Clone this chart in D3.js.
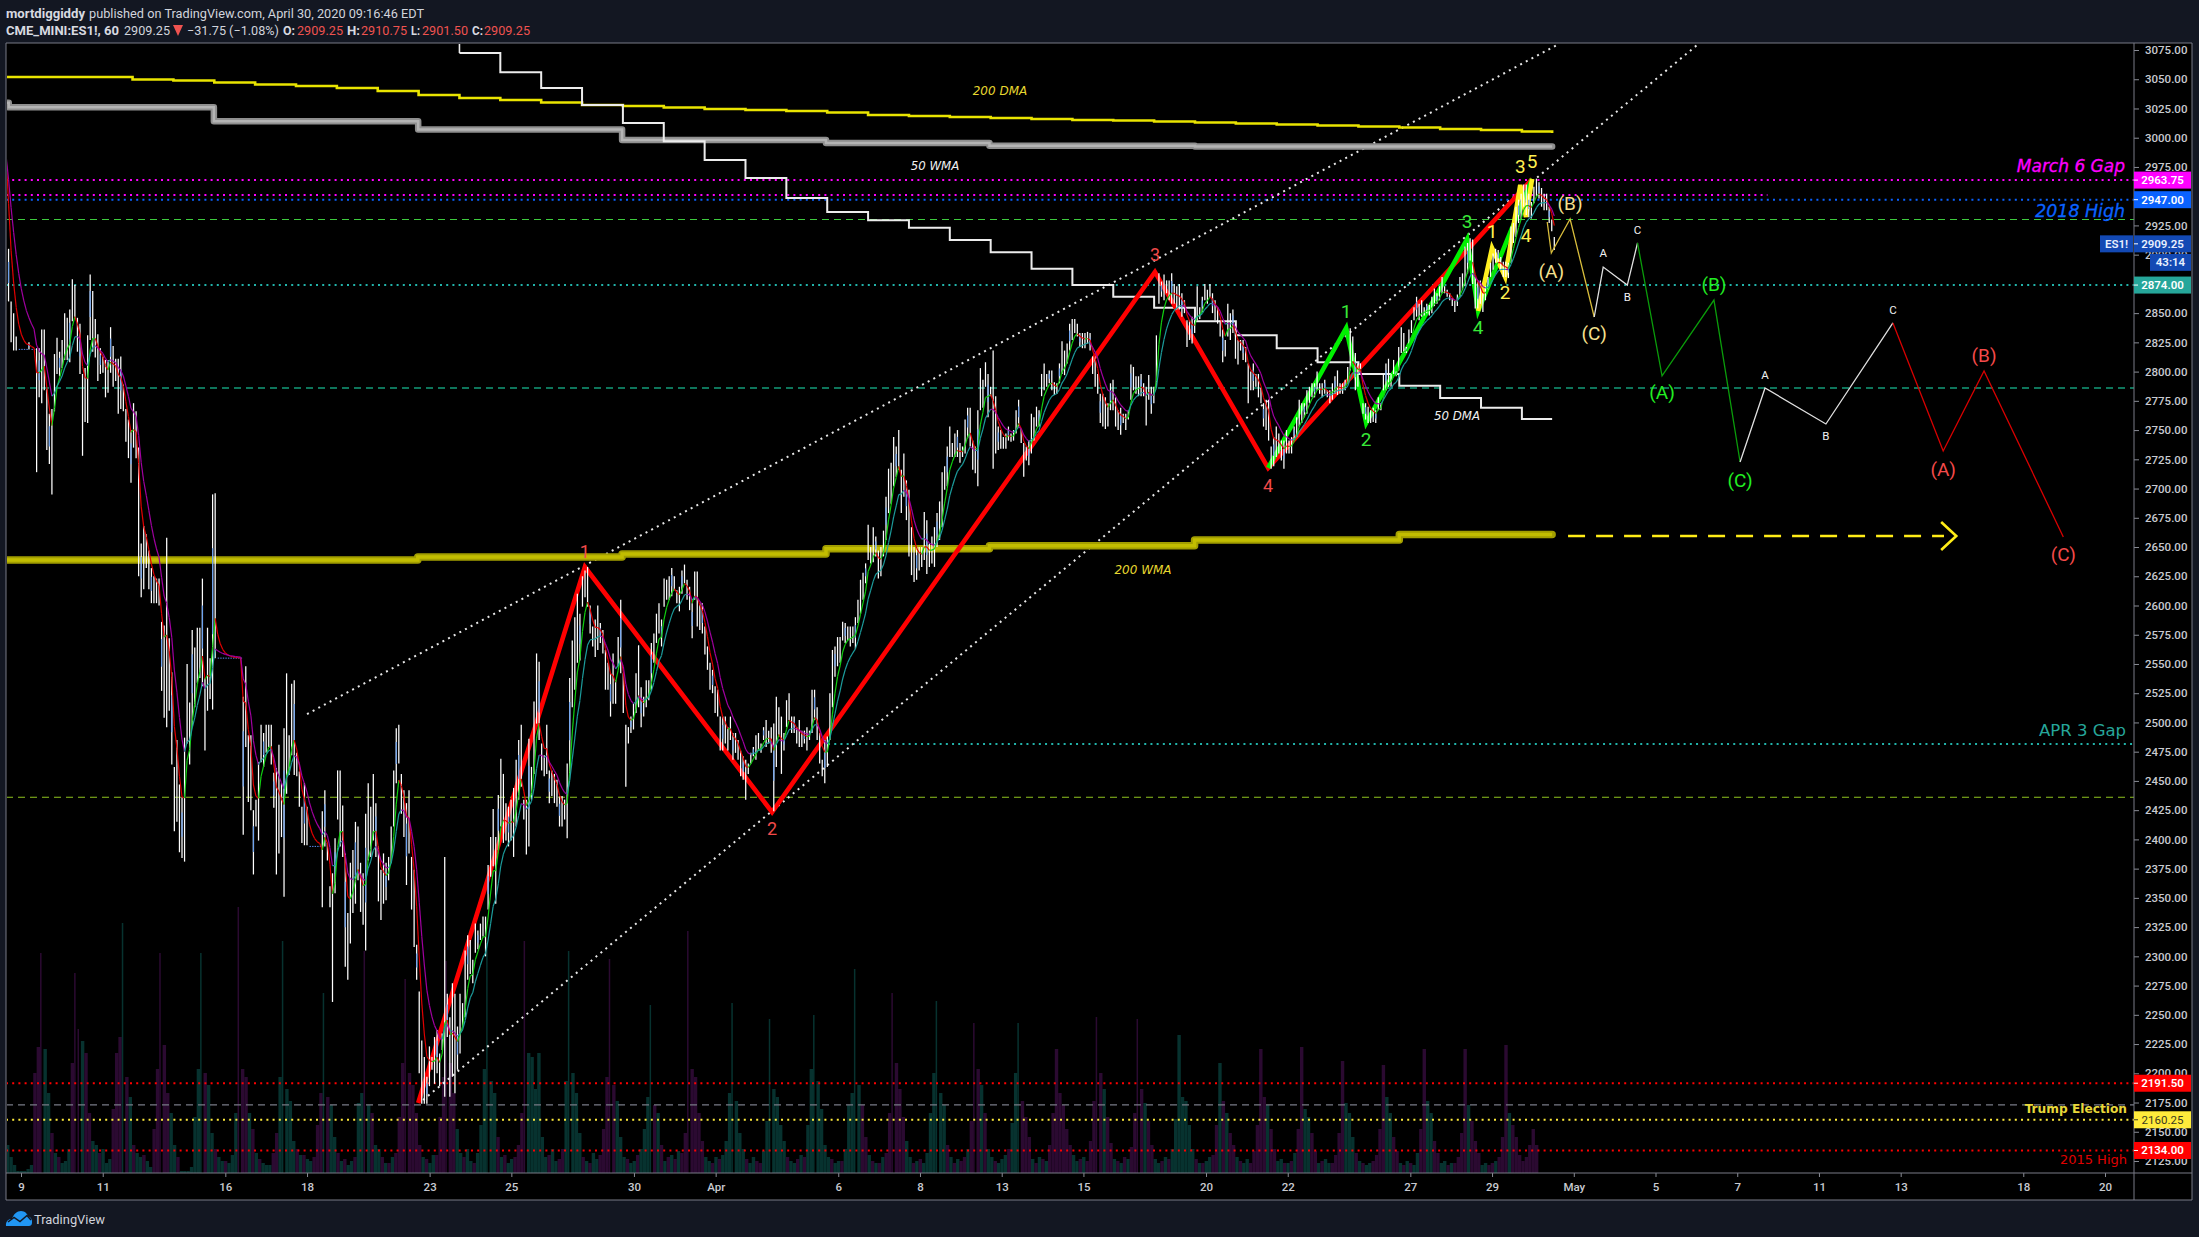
<!DOCTYPE html>
<html><head><meta charset="utf-8">
<style>html,body{margin:0;padding:0;background:#131722}svg{display:block}</style>
<script src="https://cdn.jsdelivr.net/npm/d3@7"></script></head><body>
<svg id="c" width="2199" height="1237"></svg>
<script>
// ---------- price bars: flat [high,low,high,low,...], 16 bars per session
const bars1=[2985,2900,2905,2860,2860,2825,2850,2818,2830,2818,2819,2819,2819,2819,2819,2819,2819,2819,2825,2819,2819,2819,2819,2819,2820,2714,2820,2778,2836,2773,2836,2784,2785,2733,2764,2721,2768,2695,2815,2766,2829,2798,2817,2796,2827,2803,2850,2810,2846,2810,2853,2808,2879,2843,2874,2845,2846,2817,2841,2798,2798,2728,2803,2757,2831,2756,2883,2827,2869,2817,2845,2812,2832,2792,2820,2798,2813,2799,2810,2778,2810,2782,2838,2799,2822,2787,2811,2792,2811,2764,2813,2768,2789,2766,2768,2740,2759,2726,2750,2705,2773,2735,2766,2726,2735,2625,2653,2607,2668,2614,2661,2632,2647,2614,2632,2602,2625,2602,2623,2602,2623,2600,2586,2527,2583,2504,2658,2496,2572,2510,2543,2464,2462,2407,2485,2415,2447,2389,2436,2384,2487,2381,2550,2482,2517,2464,2579,2496,2564,2513,2581,2534,2581,2538,2623,2531,2538,2476,2581,2510,2555,2520,2695,2511,2696,2555];
const bars2=[2555,2555,2555,2555,2555,2555,2555,2555,2555,2555,2555,2555,2555,2555,2555,2555,2555,2555,2555,2555,2522,2404,2548,2479,2489,2432,2489,2425,2425,2370,2434,2411,2466,2399,2498,2466,2491,2462,2498,2474,2498,2479,2498,2464,2457,2427,2461,2370,2481,2388,2448,2402,2495,2351,2542,2439,2489,2455,2533,2472,2536,2455,2474,2454,2458,2428,2428,2397,2448,2395,2428,2395,2394,2394,2394,2394,2394,2394,2394,2394,2394,2394,2424,2342,2442,2394,2397,2382,2360,2342,2371,2261,2401,2354,2459,2417,2459,2394,2429,2385,2388,2291,2337,2280,2380,2311,2391,2337,2415,2345,2411,2365,2380,2338,2371,2327,2422,2305,2448,2382,2428,2385,2456,2399,2431,2385,2394,2347,2374,2331,2388,2345,2380,2348,2385,2365,2411,2380,2459,2411,2495,2448,2498,2465,2456,2422,2442,2402,2431,2361,2442,2388,2385,2340,2374,2308,2310,2280,2270,2200,2228,2174,2214,2174,2197,2174,2223,2189,2214,2203,2231,2191,2237,2200,2217,2189,2234,2220,2385,2180,2268,2231,2248,2180,2277,2197,2268,2183,2240,2203,2268,2217,2260,2240,2305,2248,2318,2280,2314,2285,2297,2277,2328,2303,2322,2306,2328,2314,2334,2317,2334,2300];
const bars3=[2378,2340,2402,2368,2426,2377,2402,2345,2438,2391,2469,2411,2456,2397,2431,2399,2428,2394,2434,2399,2444,2385,2468,2411,2485,2434,2498,2445,2434,2417,2434,2387,2486,2394,2462,2434,2518,2456,2559,2499,2552,2485,2482,2459,2472,2454,2498,2456,2459,2431,2459,2437,2456,2431,2451,2428,2437,2411,2437,2411,2434,2417,2465,2401,2538,2456,2570,2513,2590,2528,2610,2551,2593,2553,2625,2599,2630,2607,2633,2599,2600,2576,2582,2565,2588,2556,2600,2562,2585,2568,2579,2559,2562,2528,2551,2528,2542,2505,2559,2516,2536,2516,2573,2548,2605,2542,2542,2508,2498,2445,2496,2482,2505,2491,2516,2494,2542,2508,2566,2513,2530,2496,2522,2505,2536,2513,2536,2519,2568,2528,2576,2551,2593,2568,2602,2576,2588,2565,2623,2599,2622,2605,2625,2605,2632,2608,2625,2613,2613,2602,2616,2595,2630,2610,2635,2619,2622,2605,2616,2596,2602,2572,2629,2605,2629,2582,2602,2579,2602,2576,2582,2558,2565,2545,2551,2528,2545,2525,2531,2508,2528,2505,2505,2476,2505,2476,2505,2482,2496,2476,2505,2485,2491,2468,2491,2474,2485,2468,2476,2454,2471,2451,2468,2434,2465,2456,2474,2465,2479,2471,2489,2468,2491,2476,2482,2474,2496,2485,2502,2479,2493,2482,2496,2474,2499,2424,2522,2462,2513,2488,2505,2456,2491,2476,2519,2496,2525,2502,2505,2491,2505,2491,2496,2482,2502,2479,2493,2479,2493,2482,2496,2476,2493,2485,2528,2491,2528,2502,2513,2485,2491,2465,2468,2454,2485,2448,2488,2462,2525,2485,2562,2513,2565,2539,2573,2548,2573,2551,2586,2570,2585,2568,2582,2570,2582,2565,2582,2568,2590,2563,2605,2585,2622,2593,2628,2605,2636,2619];
const bars4=[2669,2639,2650,2636,2667,2637,2659,2642,2647,2623,2650,2625,2664,2642,2693,2656,2717,2679,2722,2687,2744,2702,2736,2710,2750,2716,2716,2679,2730,2693,2707,2673,2699,2642,2667,2626,2650,2620,2650,2622,2650,2630,2650,2633,2680,2639,2673,2627,2653,2633,2659,2636,2667,2633,2679,2650,2689,2656,2714,2667,2719,2699,2736,2702,2753,2727,2739,2727,2747,2727,2750,2727,2739,2722,2736,2727,2759,2730,2769,2743,2769,2736,2741,2716,2736,2713,2767,2702,2803,2767,2793,2769,2808,2787,2798,2761,2787,2779,2818,2717,2779,2730,2753,2733,2750,2734,2744,2734,2747,2734,2753,2741,2747,2740,2750,2741,2767,2747,2776,2753,2751,2739,2739,2710,2736,2724,2741,2720,2764,2730,2761,2741,2770,2753,2767,2753,2798,2779,2807,2784,2798,2787,2801,2790,2801,2784,2791,2780,2790,2781,2807,2790,2826,2798,2818,2797,2824,2807,2841,2818,2845,2827,2845,2833,2841,2830,2833,2821,2833,2820,2833,2820,2834,2824,2833,2818,2813,2798,2813,2787,2798,2781,2781,2756,2781,2753,2778,2751,2773,2753,2790,2767,2793,2767,2778,2753,2767,2750,2769,2746,2764,2756,2764,2750,2767,2759,2806,2776,2804,2784,2796,2781,2796,2779,2798,2779,2790,2779,2787,2754,2797,2776,2787,2764,2787,2773,2831,2787];
const bars5=[2884,2858,2877,2864,2883,2861,2878,2867,2878,2861,2884,2858,2875,2858,2873,2853,2875,2853,2867,2847,2861,2850,2844,2821,2844,2827,2847,2824,2844,2833,2873,2844,2855,2845,2864,2851,2875,2861,2870,2858,2875,2863,2867,2850,2861,2844,2855,2841,2844,2830,2836,2808,2827,2813,2858,2830,2850,2827,2853,2833,2841,2811,2827,2806,2827,2818,2827,2810,2821,2808,2807,2773,2800,2784,2807,2784,2798,2787,2798,2778,2786,2773,2773,2753,2776,2750,2776,2741,2736,2717,2744,2719,2753,2727,2747,2730,2741,2724,2741,2717,2750,2730,2741,2730,2744,2730,2753,2741,2761,2744,2776,2753,2773,2756,2773,2761,2784,2764,2787,2773,2790,2778,2790,2778,2800,2784,2790,2781,2790,2778,2793,2781,2784,2778,2784,2773,2790,2776,2796,2781,2801,2780,2790,2781,2790,2781,2793,2784,2804,2790,2837,2801,2830,2807,2816,2784,2807,2787,2807,2798,2773,2764,2773,2759,2770,2756,2767,2756,2769,2757,2767,2756,2778,2767,2773,2767,2798,2784,2807,2784,2811,2787,2798,2787,2810,2798,2800,2796,2821,2801,2838,2816,2833,2816,2821,2816,2836,2824,2844,2833,2855,2844,2864,2847,2858,2844,2861,2847,2855,2848,2858,2850,2857,2848,2864,2850];
const bars6=[2871,2856,2867,2858,2873,2861,2881,2867,2873,2867,2870,2864,2867,2861,2863,2856,2861,2851,2866,2856,2881,2864,2884,2870,2907,2873,2910,2884,2914,2895,2913,2875,2881,2854,2878,2854,2878,2858,2867,2851,2873,2861,2881,2870,2893,2881,2901,2887,2905,2893,2904,2893,2898,2887,2894,2881,2894,2881,2893,2880,2924,2893,2927,2910,2941,2915,2947,2927,2952,2930,2960,2941,2960,2934,2952,2932,2945,2931,2958,2944,2965,2950,2962,2948,2957,2941,2952,2938,2952,2938,2941,2927,2930,2920,2915,2904];
const barsPerSession=16.02, firstBarDay=-0.367;

// ---------- volume: 12 readings per session, positive = up bar, negative = down bar
const volumeRows=[
[14,8,4,1,1,1,2,4,-50,-63,-110,62],[40,-20,10,-8,5,6,12,-55,-100,-72,66,-60],[-30,16,14,-10,12,5,7,-32,-60,-68,125,-48],[38,-14,10,8,-9,6,3,-22,-52,-110,-64,-40],[30,14,-8,1,1,1,3,28,52,110,-50,44],
[20,-12,8,6,-6,5,9,30,-133,-52,-48,30],[-22,10,-7,5,4,4,-10,-20,48,116,42,36],[16,-12,9,-9,7,6,-8,-24,-40,90,-38,34],[18,-10,6,-7,4,6,-8,35,40,-111,34,-30],[14,12,-8,5,-5,8,-10,-28,-55,-97,-50,-44],
[-30,-14,8,-7,5,9,-9,-28,-48,-106,-55,-40],[22,10,-8,12,6,-5,10,24,52,115,46,40],[-18,8,-9,5,7,-8,-14,-30,-116,60,58,42],[60,18,8,-9,12,6,-7,-12,46,111,50,40],[20,-8,6,-5,10,7,-9,-22,-48,-107,-44,36],
[18,8,-7,5,6,-9,12,22,38,84,-34,30],[-14,6,-8,9,-7,11,-10,-20,-121,-52,-48,-30],[-16,8,6,-5,8,-7,9,16,40,85,36,20],[12,-7,5,8,-6,-5,11,26,77,42,38,24],[16,-8,6,5,-7,9,-8,24,52,79,46,32],
[14,8,-7,5,6,-6,12,34,40,102,44,-34],[-18,9,-6,5,-5,8,-10,-30,-90,-55,-42,-28],[16,8,-5,6,-7,5,10,30,50,86,40,34],[-14,8,-5,7,-6,-8,12,-26,-75,-52,44,-30],[12,8,-6,5,7,9,-12,25,50,75,-36,-28],
[-18,7,-5,8,-7,6,-14,-30,-62,-40,-34,-22],[-14,9,6,-7,8,-6,-16,-36,-78,-50,42,-28],[-15,7,-6,5,-8,7,-13,-30,-77,-42,35,-26],[-14,7,5,-6,8,-7,12,27,69,38,36,24],[12,-7,5,-5,6,8,-9,-24,55,-36,30,-20],
[-14,8,-6,5,7,-5,-11,-24,-62,-38,34,-22],[-12,6,7,-5,5,-6,10,-22,-63,32,28,-20],[-11,5,-6,7,5,-5,-9,-20,-56,35,30,18],[-10,6,-5,4,5,-6,-9,-22,-54,38,30,-18],[-11,5,-4,6,-5,4,10,-22,-62,36,30,-16],
[-10,5,6,-4,5,-5,-8,-20,-62,34,-26,-16],[-10,4,5,-4,-5,6,-8,-18,-64,30,-24,-18],[-9,-6,-8,-14,-22,-14]];

// ---------- daily and weekly averages (session steps)
const dma200=[3051.9,3049.8,3048.9,3047.2,3045.5,3044.2,3042.5,3039.9,3036.5,3034,3032.2,3030.1,3028,3027.1,3025.8,3024.6,3023.7,3022.8,3021.6,3019.4,3018.6,3017.7,3016.9,3016,3015.1,3014.7,3013.9,3013,3012.2,3011.3,3010.4,3009.6,3008.7,3007.4,3006.6,3005.3,3004];
const dma200Days=[-0.37].concat(d3.range(2.73,37,1));
const dma50=[3072.4,3056,3042.5,3028,3012.5,2997,2981,2965.5,2948.5,2936.5,2929.5,2923,2912.5,2902,2888,2874,2864,2854.5,2843,2831,2820,2808,2798,2788,2777.5,2769,2759.5];
const dma50Days=d3.range(10.73,37,1);
const wma50=[3030,3026,3014,3007,2998,2995.5,2993.2,2992.5];
const wma50Days=[-0.37,-0.3,4.72,9.72,14.71,19.7,23.7,28.73];
const wma200=[2639,2641.5,2644,2648.5,2651,2656,2660.7];
const wma200Days=[-0.37,9.71,14.71,19.7,23.7,28.72,33.73];
const seriesEnd=37.47;

// ---------- wave counts
const redWave=[[9.72,2174.6],[13.8,2632.9],[18.38,2423.4],[27.75,2885.2],[30.52,2717.6],[36.98,2964.7]];
const redLabels=["","1","2","3","4",""];
const greenWave=[[30.52,2717.6],[32.43,2837.3],[32.92,2756],[35.39,2913.4],[35.66,2851.8],[36.98,2964.7]];
const greenLabels=["","1","2","3","4",""];
const yellowWave=[[35.66,2851.8],[36,2905.7],[36.32,2881],[36.69,2959.6],[36.83,2932.2],[36.98,2964.7]];
const yellowLabels=["","1","2","3","4","5"];
const fcYellow=[[37.35,2927.9],[37.45,2901.4],[37.91,2930.5],[38.5,2846.7]];
const fcYellowLabels=["","(A)","(B)","(C)"];
const fcWhite1=[[38.5,2846.7],[38.72,2889.4],[39.31,2874],[39.56,2910]];
const fcWhite1Labels=["","A","B","C"];
const fcGreen=[[39.56,2910],[40.16,2796.3],[41.43,2861.2],[42.07,2722.7]];
const fcGreenLabels=["","(A)","(B)","(C)"];
const fcWhite2=[[42.07,2722.7],[42.68,2786],[44.17,2755.2],[45.81,2841.6]];
const fcWhite2Labels=["","A","B","C"];
const fcRed=[[45.81,2841.6],[47.04,2732.1],[48.04,2800.5],[49.98,2658.6]];
const fcRedLabels=["","(A)","(B)","(C)"];
const trendUpper=[[7,2507.2],[37.59,3079.3]];
const trendLower=[[9.84,2177.2],[41.02,3079.3]];
const targetDash=[[37.86,2659.4],[47.06,2659.4]];
const targetHead=[[46.99,2671.4],[47.36,2659.4],[46.99,2647.5]];

// ---------- axis
const priceTicks=d3.range(2125,3076,25);
const dayTicks=[0,2,5,7,10,12,15,17,20,22,24,26,29,31,34,36,38,40,42,44,46,49,51];
const dayLabels=["9","11","16","18","23","25","30","Apr","6","8","13","15","20","22","27","29","May","5","7","11","13","18","20"];

// ---------- horizontal levels: price, colour, dash kind, optional start/end
const levelPrices=[2963.75,2951,2947,2930,2874,2786,2481.5,2436,2191.5,2173,2160.25,2134];
const levelColors=["#ff00ff","#ff00ff","#0a62ff","#3ecb3e","#22b3aa","#1de9b6","#22b3aa","#8fc31f","#ff0000","#787b86","#ffeb3b","#ff0000"];
const levelDash=["dot","dot","dot","dash","dot","dash","dot","dash","dot","dash","dot","dot"];
const levelStart=[null,null,null,null,null,null,19.75,null,null,null,null,null];
const levelEnd=[null,42.74,null,null,null,null,null,null,null,null,null,null];
const tagPrices=[2963.75,2947,2874,2191.5,2160.25,2134];
const tagFill=["#ff00ff","#0a62ff","#26a69a","#ff0000","#ffeb3b","#ff0000"];
const tagText=["#fff","#fff","#fff","#fff","#3a3a20","#fff"];

// ---------- build
const W=2199,H=1237,paneL=6,paneT=43,axisX=2134,paneB=1173,outerR=2192,outerB=1200;
const svg=d3.select("#c");
const x=d3.scaleLinear().domain([0,51]).range([21,2105]);
const y=d3.scaleLinear().domain([2125,3075]).range([1161,50]);
const vol=d3.scaleLinear().domain([0,130]).range([paneB,paneB-260]);
const FONT="Roboto,'Open Sans',sans-serif";

svg.append("rect").attr("width",W).attr("height",H).attr("fill","#131722");
svg.append("rect").attr("x",paneL).attr("y",paneT).attr("width",outerR-paneL).attr("height",outerB-paneT).attr("fill","#000");
svg.append("defs").append("clipPath").attr("id","pane").append("rect").attr("x",paneL+1).attr("y",paneT+1).attr("width",axisX-paneL-1).attr("height",paneB-paneT-1);
const g=svg.append("g").attr("clip-path","url(#pane)");

// volume
const volData=volumeRows.flatMap((r,d)=>r.map((v,k)=>({day:firstBarDay+d+k/12,v})));
g.append("g").selectAll("rect").data(volData).join("rect")
 .attr("x",d=>x(d.day)).attr("width",d=>Math.abs(d.v)>=70?1.5:3.4)
 .attr("y",d=>vol(Math.abs(d.v))).attr("height",d=>paneB-vol(Math.abs(d.v)))
 .attr("fill",d=>d.v>=0?"#07322f":"#2b0a31");

// levels
levelPrices.forEach((p,i)=>{
 g.append("line").attr("x1",levelStart[i]==null?paneL:x(levelStart[i])).attr("x2",levelEnd[i]==null?axisX:x(levelEnd[i]))
  .attr("y1",y(p)).attr("y2",y(p)).attr("stroke",levelColors[i])
  .attr("stroke-width",levelDash[i]==="dot"?2:1.1)
  .attr("stroke-dasharray",levelDash[i]==="dot"?"2 4.2":"7 5");
});

const line=d3.line().x(d=>x(d[0])).y(d=>y(d[1]));
const step=d3.line().x(d=>x(d[0])).y(d=>y(d[1])).curve(d3.curveStepAfter);
const zip=(days,vals)=>days.map((d,i)=>[d,vals[i]]).concat([[seriesEnd,vals[vals.length-1]]]);

// trend lines
[trendUpper,trendLower].forEach(t=>g.append("path").attr("d",line(t)).attr("fill","none").attr("stroke","#e8e8e8").attr("stroke-width",2).attr("stroke-dasharray","2 4.4"));

// averages
g.append("path").attr("d",step(zip(wma200Days,wma200))).attr("fill","none").attr("stroke","#a29e00").attr("stroke-width",7.5).attr("stroke-linejoin","round").attr("stroke-linecap","round");
g.append("path").attr("d",step(zip(wma200Days,wma200))).attr("fill","none").attr("stroke","#c2bd00").attr("stroke-width",3.5);
g.append("path").attr("d",step(zip(wma50Days,wma50))).attr("fill","none").attr("stroke","#8f8f8f").attr("stroke-width",6.5).attr("stroke-linejoin","round").attr("stroke-linecap","round");
g.append("path").attr("d",step(zip(wma50Days,wma50))).attr("fill","none").attr("stroke","#b4b4b4").attr("stroke-width",2.5);
g.append("path").attr("d",step(zip(dma200Days,dma200))).attr("fill","none").attr("stroke","#e9e400").attr("stroke-width",2.6);
g.append("path").attr("d",step(zip(dma50Days,dma50))).attr("fill","none").attr("stroke","#ececec").attr("stroke-width",2);
g.append("path").attr("d",line([[dma50Days[0],3090],[dma50Days[0],dma50[0]]])).attr("stroke","#ececec").attr("stroke-width",1.6);

// wave lines
[[redWave,"#ff0000"],[greenWave,"#00f000"],[yellowWave,"#ffee20"]].forEach(([w,c])=>
 g.append("path").attr("d",line(w)).attr("fill","none").attr("stroke",c).attr("stroke-width",4.6).attr("stroke-linejoin","miter"));

// bars
const flat=bars1.concat(bars2,bars3,bars4,bars5,bars6);
const bars=[];
for(let i=0;i<flat.length;i+=2){const n=i/2;bars.push({i:n,day:firstBarDay+n/barsPerSession,hi:flat[i],lo:flat[i+1]});}
const bg=g.append("g");
bg.selectAll("line.w").data(bars.filter(b=>b.hi>b.lo)).join("line")
 .attr("x1",d=>x(d.day)).attr("x2",d=>x(d.day)).attr("y1",d=>y(d.hi)).attr("y2",d=>y(d.lo))
 .attr("stroke","#ffffff").attr("stroke-width",1.25);
bg.selectAll("line.f").data(bars.filter(b=>b.hi===b.lo)).join("line")
 .attr("x1",d=>x(d.day)).attr("x2",d=>x(d.day)+1.4).attr("y1",d=>y(d.hi)).attr("y2",d=>y(d.lo))
 .attr("stroke","#5b8def").attr("stroke-width",1);
bg.selectAll("line.b").data(bars.filter(b=>b.hi>b.lo&&b.i%4===1)).join("line")
 .attr("x1",d=>x(d.day)).attr("x2",d=>x(d.day))
 .attr("y1",d=>y(d.hi-(d.hi-d.lo)*.25)).attr("y2",d=>y(d.lo+(d.hi-d.lo)*.35))
 .attr("stroke","#6fa3ee").attr("stroke-width",1.25);

// moving averages computed from the bars
function ema(alpha){let e=null;return bars.map(b=>{const m=(b.hi+b.lo)/2;e=e==null?b.hi:e+alpha*(m-e);return [b.day,e];});}
function coloured(pts,up,down,w){for(let i=1;i<pts.length;i++){
 g.append("line").attr("x1",x(pts[i-1][0])).attr("x2",x(pts[i][0])).attr("y1",y(pts[i-1][1])).attr("y2",y(pts[i][1]))
  .attr("stroke",pts[i][1]>=pts[i-1][1]?up:down).attr("stroke-width",w);}}
coloured(ema(.4),"#10d010","#e00000",1.2);
coloured(ema(.2),"#1c9c9c","#a000a0",1.2);

// forecast lines
[[fcYellow,"#d8bd3c"],[fcWhite1,"#e0e0e0"],[fcGreen,"#0a9c0a"],[fcWhite2,"#e0e0e0"],[fcRed,"#d80000"]].forEach(([w,c])=>
 g.append("path").attr("d",line(w)).attr("fill","none").attr("stroke",c).attr("stroke-width",1.3));
g.append("path").attr("d",line(targetDash)).attr("fill","none").attr("stroke","#ffec17").attr("stroke-width",2.6).attr("stroke-dasharray","17 11");
g.append("path").attr("d",line(targetHead)).attr("fill","none").attr("stroke","#ffec17").attr("stroke-width",2.6);

// labels on waves
function waveLabels(w,labels,offsets,color,size){
 labels.forEach((t,i)=>{ if(!t) return;
  svg.append("text").attr("x",x(w[i][0])).attr("y",y(w[i][1])+offsets[i]).attr("text-anchor","middle").attr("dominant-baseline","central")
   .attr("fill",color).attr("font-family",FONT).attr("font-size",size).text(t);});}
waveLabels(redWave,redLabels,[0,-16,16,-17,18,0],"#f24a4a",18);
waveLabels(greenWave,greenLabels,[0,-16,16,-17,16,0],"#38e838",19);
waveLabels(yellowWave,yellowLabels,[0,-16,16,-18,18,-17],"#fff050",19);
waveLabels(fcYellow,fcYellowLabels,[0,18,-15,17],"#f6e08e",19);
waveLabels(fcWhite1,fcWhite1Labels,[0,-14,12,-13],"#f0f0f0",11.5);
waveLabels(fcGreen,fcGreenLabels,[0,17,-16,18],"#22ee22",19);
waveLabels(fcWhite2,fcWhite2Labels,[0,-13,12,-13],"#f0f0f0",11.5);
waveLabels(fcRed,fcRedLabels,[0,18,-16,18],"#f44a4a",19);

// free text
function note(t,px,py,color,size,opt={}){
 const e=svg.append("text").attr("x",px).attr("y",py).attr("fill",color).attr("font-size",size)
  .attr("font-family",opt.font||"'DejaVu Sans',sans-serif").attr("dominant-baseline","central")
  .attr("text-anchor",opt.anchor||"middle").attr("font-style",opt.italic?"italic":"normal").attr("font-weight",opt.bold?"bold":"normal").text(t);
 if(opt.stroke) e.attr("stroke",color).attr("stroke-width",opt.stroke);
 return e;}
note("200 DMA",1000,91,"#e8d830",12,{italic:true});
note("50 WMA",935,166,"#f0f0f0",11.8,{italic:true});
note("50 DMA",1457,416,"#f0f0f0",11.8,{italic:true});
note("200 WMA",1143,570,"#e8d830",12,{italic:true});
note("March 6 Gap",2125,166,"#ff00ff",17,{italic:true,anchor:"end",stroke:.3});
note("2018 High",2125,211,"#0a62ff",17.4,{italic:true,anchor:"end",stroke:.3});
note("APR 3 Gap",2126,730,"#26a69a",16.5,{anchor:"end"});
note("Trump Election",2127,1109,"#e8d83a",12.2,{anchor:"end",bold:true});
note("2015 High",2127,1159,"#e00000",13,{anchor:"end"});

// axes
const yAxis=d3.axisRight(y).tickValues(priceTicks).tickFormat(d3.format(".2f")).tickSize(5).tickPadding(6);
const ya=svg.append("g").attr("transform",`translate(${axisX},0)`).call(yAxis);
const xAxis=d3.axisBottom(x).tickValues(dayTicks).tickFormat((d,i)=>dayLabels[i]).tickSize(4).tickPadding(6);
const xa=svg.append("g").attr("transform",`translate(0,${paneB})`).call(xAxis);
[ya,xa].forEach(a=>{a.selectAll(".domain").remove();a.selectAll("line").attr("stroke","#8a8d96");
 a.selectAll("text").attr("fill","#c8cad0").attr("font-family",FONT).attr("font-size",11.5).attr("font-weight",500);});

// borders
const border=(a,b,c,d)=>svg.append("line").attr("x1",a).attr("y1",b).attr("x2",c).attr("y2",d).attr("stroke","#787b86").attr("stroke-width",1);
border(paneL,paneT,outerR,paneT);border(paneL,paneT,paneL,outerB);border(outerR,paneT,outerR,outerB);
border(paneL,outerB,outerR,outerB);border(paneL,paneB,outerR,paneB);border(axisX,paneT,axisX,outerB);

// price tags
function tag(px,w,p,fill,col,text,bold){
 svg.append("rect").attr("x",px).attr("y",p-8.5).attr("width",w).attr("height",17).attr("fill",fill);
 svg.append("text").attr("x",px+w/2).attr("y",p).attr("text-anchor","middle").attr("dominant-baseline","central").attr("fill",col)
  .attr("font-family",FONT).attr("font-size",11.5).attr("font-weight",bold?600:400).text(text);}
tagPrices.forEach((p,i)=>{tag(axisX,57,y(p),tagFill[i],tagText[i],d3.format(".2f")(p),i!==4);
 svg.append("line").attr("x1",axisX).attr("x2",axisX+4).attr("y1",y(p)).attr("y2",y(p)).attr("stroke",tagText[i]);});
const lastPrice=2909.25;
tag(axisX,57,y(lastPrice),"#1349b4","#e8f0ff",d3.format(".2f")(lastPrice),true);
tag(2100,33,y(lastPrice),"#1349b4","#e8f0ff","ES1!",true);
svg.append("line").attr("x1",axisX).attr("x2",axisX+4).attr("y1",y(lastPrice)).attr("y2",y(lastPrice)).attr("stroke","#fff");
tag(2150,41,y(lastPrice)+18.5,"#1349b4","#e8f0ff","43:14",true);

// header
function head(t,px,py,w,col,bold){svg.append("text").attr("x",px).attr("y",py).attr("dominant-baseline","central").attr("fill",col)
 .attr("font-family",FONT).attr("font-size",12.5).attr("font-weight",bold?700:400).attr("textLength",w).attr("lengthAdjust","spacingAndGlyphs").text(t);}
head("mortdiggiddy",6,13,79,"#d8dae0",true);
head("published on TradingView.com, April 30, 2020 09:16:46 EDT",89,13,335,"#d1d4dc",false);
head("CME_MINI:ES1!, 60",6,30,113,"#d8dae0",true);
head("2909.25",124,30,46,"#d1d4dc",false);
svg.append("path").attr("d","M173 25L183 25L178 36Z").attr("fill","#ef5350");
head("\u221231.75 (\u22121.08%)",187,30,92,"#d1d4dc",false);
[["O:",283,12,"2909.25",297],["H:",347,13,"2910.75",361],["L:",411,9,"2901.50",422],["C:",472,11,"2909.25",484]].forEach(r=>{
 head(r[0],r[1],30,r[2],"#d8dae0",true);head(r[3],r[4],30,46,"#ef5350",false);});

// footer
const logo=svg.append("g").attr("transform","translate(6,1211)");
logo.append("path").attr("d","M0 15C-0.5 10 3 7.5 6 8C7.5 3 11 0 15 0C19 0 21.5 3 22 5.5C25 6 26.5 9 26 12C26 14 24.5 15 23 15Z").attr("fill","#2196f3");
logo.append("path").attr("d","M2 11L8 6.5L14 10.5L21 4.5L25 9").attr("fill","none").attr("stroke","#131722").attr("stroke-width",1.5);
svg.append("text").attr("x",34).attr("y",1219).attr("dominant-baseline","central").attr("fill","#d1d4dc").attr("font-family",FONT).attr("font-size",13.5).attr("textLength",71).attr("lengthAdjust","spacingAndGlyphs").text("TradingView");
</script></body></html>
